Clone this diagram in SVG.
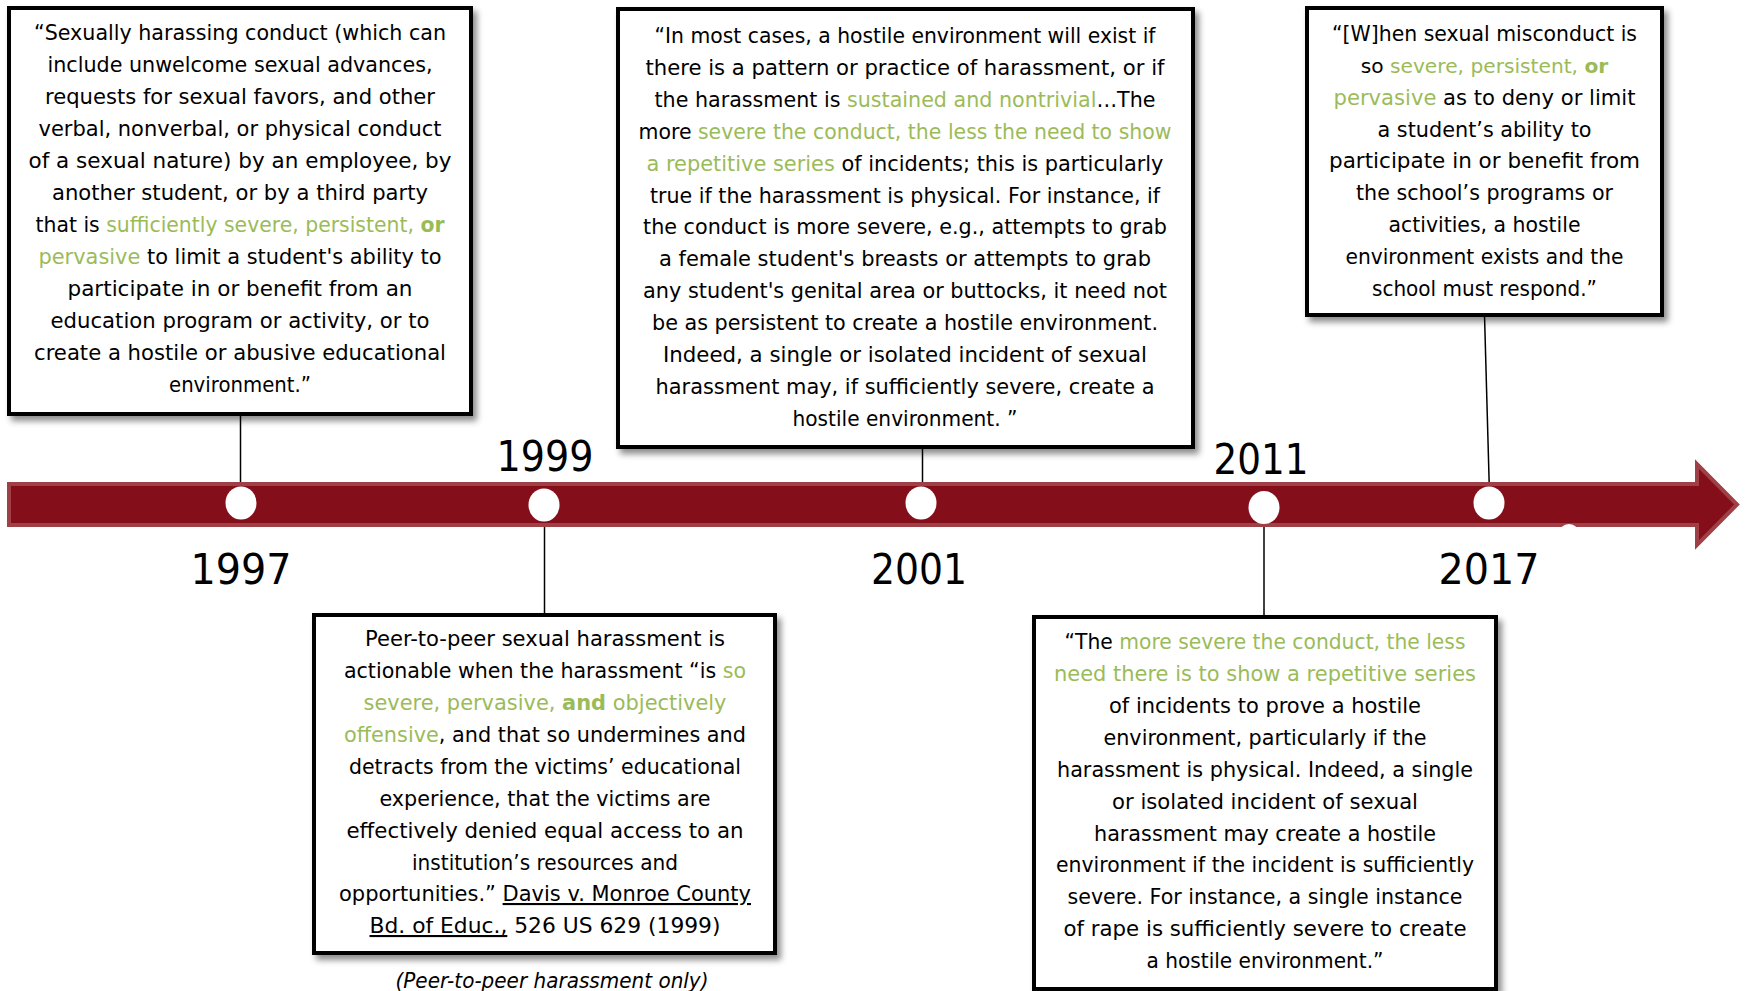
<svg xmlns="http://www.w3.org/2000/svg" width="1748" height="991" viewBox="0 0 1748 991">
<defs>
<style>
.t { font-family: "DejaVu Sans", sans-serif; font-size: 21px; fill: #000; text-anchor: middle; }
.s2 { font-size: 20.5px; }
.g { fill: #9BBB59; }
.b { font-weight: bold; }
.u { text-decoration: underline; }
.it { font-style: italic; }
.box { fill: #fff; stroke: #000; stroke-width: 4; filter: url(#sh); }
.yr { font-family: "DejaVu Sans", sans-serif; font-size: 42px; fill: #000; text-anchor: middle; }
.conn { stroke: #000; stroke-width: 1.5; fill: none; }
.dot { fill: #fff; }
.bar { fill: #840f1a; stroke: #9e4046; stroke-width: 4; stroke-linejoin: miter; }
</style>
<filter id="sh" x="-5%" y="-5%" width="115%" height="115%">
<feDropShadow dx="4" dy="5" stdDeviation="3" flood-color="#000" flood-opacity="0.45"/>
</filter>
</defs>
<rect width="1748" height="991" fill="#fff"/>

<g id="connectors">
<line class="conn" x1="240.5" y1="414" x2="240.5" y2="495"/>
<line class="conn" x1="544.5" y1="515" x2="544.5" y2="615"/>
<line class="conn" x1="922.5" y1="447" x2="922.5" y2="495"/>
<line class="conn" x1="1264" y1="515" x2="1264" y2="617"/>
<line class="conn" x1="1484.5" y1="315" x2="1489.5" y2="495"/>
</g>

<g id="timeline">
<path class="bar" d="M9,484 L1697,484 L1697,464 L1737,504.5 L1697,545 L1697,525 L9,525 Z"/>
<ellipse class="dot" cx="1569" cy="533" rx="10" ry="9"/>
</g>

<g id="year-1997">
<ellipse class="dot" cx="241" cy="503" rx="15.5" ry="16.5"/>
<text class="yr" x="241" y="584" textLength="101" lengthAdjust="spacingAndGlyphs">1997</text>
</g>
<g id="year-1999">
<ellipse class="dot" cx="544" cy="505" rx="15.5" ry="16.5"/>
<text class="yr" x="545" y="471" textLength="97" lengthAdjust="spacingAndGlyphs">1999</text>
</g>
<g id="year-2001">
<ellipse class="dot" cx="921" cy="503" rx="15.5" ry="16.5"/>
<text class="yr" x="919" y="584" textLength="96" lengthAdjust="spacingAndGlyphs">2001</text>
</g>
<g id="year-2011">
<ellipse class="dot" cx="1264" cy="507.5" rx="15.5" ry="16.5"/>
<text class="yr" x="1261" y="474" textLength="95" lengthAdjust="spacingAndGlyphs">2011</text>
</g>
<g id="year-2017">
<ellipse class="dot" cx="1489" cy="503" rx="15.5" ry="16.5"/>
<text class="yr" x="1489" y="584" textLength="101" lengthAdjust="spacingAndGlyphs">2017</text>
</g>

<g id="node-1997">
<rect class="box" x="9" y="8" width="462" height="406"/>
<text class="t" x="240" y="40" textLength="412" lengthAdjust="spacingAndGlyphs">“Sexually harassing conduct (which can</text>
<text class="t" x="240" y="72" textLength="385" lengthAdjust="spacingAndGlyphs">include unwelcome sexual advances,</text>
<text class="t" x="240" y="104" textLength="390" lengthAdjust="spacingAndGlyphs">requests for sexual favors, and other</text>
<text class="t" x="240" y="136" textLength="403" lengthAdjust="spacingAndGlyphs">verbal, nonverbal, or physical conduct</text>
<text class="t" x="240" y="168" textLength="423" lengthAdjust="spacingAndGlyphs">of a sexual nature) by an employee, by</text>
<text class="t" x="240" y="200" textLength="376" lengthAdjust="spacingAndGlyphs">another student, or by a third party</text>
<text class="t" x="240" y="232" style="font-size:20.4px">that is <tspan class="g">sufficiently severe, persistent, </tspan><tspan class="g b">or</tspan></text>
<text class="t" x="240" y="264" textLength="403" lengthAdjust="spacingAndGlyphs"><tspan class="g">pervasive</tspan> to limit a student's ability to</text>
<text class="t" x="240" y="296" textLength="345" lengthAdjust="spacingAndGlyphs">participate in or benefit from an</text>
<text class="t" x="240" y="328" textLength="379" lengthAdjust="spacingAndGlyphs">education program or activity, or to</text>
<text class="t" x="240" y="360" textLength="412" lengthAdjust="spacingAndGlyphs">create a hostile or abusive educational</text>
<text class="t" x="240" y="392" textLength="142" lengthAdjust="spacingAndGlyphs">environment.”</text>
</g>

<g id="node-2001">
<rect class="box" x="618" y="9" width="575" height="438"/>
<text class="t s2" x="905" y="42.5" textLength="501" lengthAdjust="spacingAndGlyphs">“In most cases, a hostile environment will exist if</text>
<text class="t s2" x="905" y="74.5" textLength="519" lengthAdjust="spacingAndGlyphs">there is a pattern or practice of harassment, or if</text>
<text class="t s2" x="905" y="106.5" textLength="501" lengthAdjust="spacingAndGlyphs">the harassment is <tspan class="g">sustained and nontrivial</tspan>…The</text>
<text class="t s2" x="905" y="138.5" textLength="533" lengthAdjust="spacingAndGlyphs">more <tspan class="g">severe the conduct, the less the need to show</tspan></text>
<text class="t s2" x="905" y="170.5" textLength="517" lengthAdjust="spacingAndGlyphs"><tspan class="g">a repetitive series</tspan> of incidents; this is particularly</text>
<text class="t s2" x="905" y="202.5" textLength="510" lengthAdjust="spacingAndGlyphs">true if the harassment is physical. For instance, if</text>
<text class="t s2" x="905" y="234" textLength="524" lengthAdjust="spacingAndGlyphs">the conduct is more severe, e.g., attempts to grab</text>
<text class="t s2" x="905" y="266" textLength="492" lengthAdjust="spacingAndGlyphs">a female student's breasts or attempts to grab</text>
<text class="t s2" x="905" y="298" textLength="524" lengthAdjust="spacingAndGlyphs">any student's genital area or buttocks, it need not</text>
<text class="t s2" x="905" y="330" textLength="506" lengthAdjust="spacingAndGlyphs">be as persistent to create a hostile environment.</text>
<text class="t s2" x="905" y="362" textLength="484" lengthAdjust="spacingAndGlyphs">Indeed, a single or isolated incident of sexual</text>
<text class="t s2" x="905" y="394" textLength="499" lengthAdjust="spacingAndGlyphs">harassment may, if sufficiently severe, create a</text>
<text class="t s2" x="905" y="426" textLength="225" lengthAdjust="spacingAndGlyphs">hostile environment. ”</text>
</g>

<g id="node-2017">
<rect class="box" x="1307" y="8" width="355" height="307"/>
<text class="t" x="1484.5" y="40.5" textLength="305" lengthAdjust="spacingAndGlyphs">“[W]hen sexual misconduct is</text>
<text class="t" x="1484.5" y="72.5" style="font-size:20.2px">so <tspan class="g">severe, persistent, </tspan><tspan class="g b">or</tspan></text>
<text class="t" x="1484.5" y="104.5" textLength="302" lengthAdjust="spacingAndGlyphs"><tspan class="g">pervasive</tspan> as to deny or limit</text>
<text class="t" x="1484.5" y="136.5" textLength="214" lengthAdjust="spacingAndGlyphs">a student’s ability to</text>
<text class="t" x="1484.5" y="168" textLength="311" lengthAdjust="spacingAndGlyphs">participate in or benefit from</text>
<text class="t" x="1484.5" y="200" textLength="257" lengthAdjust="spacingAndGlyphs">the school’s programs or</text>
<text class="t" x="1484.5" y="232" textLength="192" lengthAdjust="spacingAndGlyphs">activities, a hostile</text>
<text class="t" x="1484.5" y="264" textLength="278" lengthAdjust="spacingAndGlyphs">environment exists and the</text>
<text class="t" x="1484.5" y="296" textLength="225" lengthAdjust="spacingAndGlyphs">school must respond.”</text>
</g>

<g id="node-1999">
<rect class="box" x="314" y="615" width="461" height="338"/>
<text class="t" x="545" y="646" textLength="360" lengthAdjust="spacingAndGlyphs">Peer-to-peer sexual harassment is</text>
<text class="t" x="545" y="678" style="font-size:20.6px">actionable when the harassment “is <tspan class="g">so</tspan></text>
<text class="t" x="545" y="710" textLength="363" lengthAdjust="spacingAndGlyphs"><tspan class="g">severe, pervasive, </tspan><tspan class="g b">and</tspan><tspan class="g"> objectively</tspan></text>
<text class="t" x="545" y="742" textLength="402" lengthAdjust="spacingAndGlyphs"><tspan class="g">offensive</tspan>, and that so undermines and</text>
<text class="t" x="545" y="774" textLength="392" lengthAdjust="spacingAndGlyphs">detracts from the victims’ educational</text>
<text class="t" x="545" y="805.5" textLength="331" lengthAdjust="spacingAndGlyphs">experience, that the victims are</text>
<text class="t" x="545" y="837.5" textLength="397" lengthAdjust="spacingAndGlyphs">effectively denied equal access to an</text>
<text class="t" x="545" y="869.5" textLength="266" lengthAdjust="spacingAndGlyphs">institution’s resources and</text>
<text class="t" x="545" y="901" textLength="412" lengthAdjust="spacingAndGlyphs">opportunities.” <tspan class="u">Davis v. Monroe County</tspan></text>
<text class="t" x="545" y="933" textLength="351" lengthAdjust="spacingAndGlyphs"><tspan class="u">Bd. of Educ.,</tspan> 526 US 629 (1999)</text>
<text class="t it" x="552" y="988" textLength="313" lengthAdjust="spacingAndGlyphs">(Peer-to-peer harassment only)</text>
</g>

<g id="node-2011">
<rect class="box" x="1034" y="617" width="462" height="372"/>
<text class="t" x="1265" y="649" textLength="401" lengthAdjust="spacingAndGlyphs">“The <tspan class="g">more severe the conduct, the less</tspan></text>
<text class="t" x="1265" y="681" textLength="422" lengthAdjust="spacingAndGlyphs"><tspan class="g">need there is to show a repetitive series</tspan></text>
<text class="t" x="1265" y="713" textLength="312" lengthAdjust="spacingAndGlyphs">of incidents to prove a hostile</text>
<text class="t" x="1265" y="745" textLength="323" lengthAdjust="spacingAndGlyphs">environment, particularly if the</text>
<text class="t" x="1265" y="776.5" textLength="416" lengthAdjust="spacingAndGlyphs">harassment is physical. Indeed, a single</text>
<text class="t" x="1265" y="808.5" textLength="306" lengthAdjust="spacingAndGlyphs">or isolated incident of sexual</text>
<text class="t" x="1265" y="840.5" textLength="342" lengthAdjust="spacingAndGlyphs">harassment may create a hostile</text>
<text class="t" x="1265" y="872" textLength="418" lengthAdjust="spacingAndGlyphs">environment if the incident is sufficiently</text>
<text class="t" x="1265" y="904" textLength="395" lengthAdjust="spacingAndGlyphs">severe. For instance, a single instance</text>
<text class="t" x="1265" y="936" textLength="403" lengthAdjust="spacingAndGlyphs">of rape is sufficiently severe to create</text>
<text class="t" x="1265" y="968" textLength="237" lengthAdjust="spacingAndGlyphs">a hostile environment.”</text>
</g>
</svg>
